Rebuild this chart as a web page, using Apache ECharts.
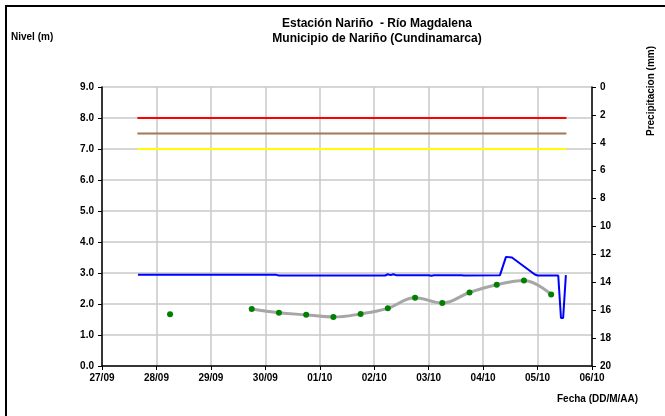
<!DOCTYPE html>
<html>
<head>
<meta charset="utf-8">
<script src="https://cdn.jsdelivr.net/npm/echarts@6/dist/echarts.min.js"></script>
<style>html,body{margin:0;padding:0;background:#fff}#c{width:665px;height:416px}</style>
</head>
<body>
<div id="c"></div>
<script>
// X in days since 27/09 00:00
const dateLabels = ['27/09','28/09','29/09','30/09','01/10','02/10','03/10','04/10','05/10','06/10'];
const blueTime = [0.66, 3.2, 3.25, 5.2, 5.25, 5.3, 5.35, 5.4, 6.0, 6.05, 6.1, 6.6, 6.65, 7.31, 7.42, 7.53, 7.95, 8.0, 8.38, 8.43, 8.47, 8.52];
const blueLevel = [2.94, 2.94, 2.92, 2.92, 2.96, 2.93, 2.96, 2.93, 2.93, 2.91, 2.93, 2.93, 2.92, 2.93, 3.52, 3.50, 2.95, 2.92, 2.92, 1.55, 1.55, 2.93];
const greenTime = [1.25, 2.75, 3.25, 3.75, 4.25, 4.75, 5.25, 5.75, 6.25, 6.75, 7.25, 7.75, 8.25];
const greenLevel = [1.67, 1.84, 1.72, 1.65, 1.58, 1.68, 1.86, 2.20, 2.03, 2.37, 2.62, 2.76, 2.31];
const thresholdSpan = [0.65, 8.53];
const redLevel = 8.0, brownLevel = 7.5, yellowLevel = 7.0;

const pair = (xs, ys) => xs.map((x, i) => [x, ys[i]]);
const flat = (v) => thresholdSpan.map(x => [x, v]);
const font = 'Liberation Sans, Arial, sans-serif';

const chart = echarts.init(document.getElementById('c'));
chart.setOption({
  animation: false,
  backgroundColor: '#fff',
  title: {
    text: 'Estación Nariño  - Río Magdalena\nMunicipio de Nariño (Cundinamarca)',
    left: 372, top: 11, textAlign: 'center',
    textStyle: {fontFamily: font, fontSize: 12, fontWeight: 'bold', color: '#000', lineHeight: 15}
  },
  graphic: [
    {type: 'rect', shape: {x: 6, y: 6, width: 700, height: 450}, style: {fill: 'none', stroke: '#000', lineWidth: 2}, silent: true},
    {type: 'text', left: 11, top: 32, style: {text: 'Nivel (m)', font: 'bold 10px ' + font, fill: '#000'}},
    {type: 'text', x: 651, y: 91, rotation: Math.PI / 2, style: {text: 'Precipitacion (mm)', font: 'bold 10px ' + font, fill: '#000', align: 'center', verticalAlign: 'middle'}},
    {type: 'text', left: 557, top: 394, style: {text: 'Fecha (DD/M/AA)', font: 'bold 10px ' + font, fill: '#000'}}
  ],
  grid: {left: 102, right: 73, top: 87, bottom: 50},
  xAxis: {
    type: 'value', min: 0, max: 9, interval: 1,
    axisLine: {lineStyle: {color: '#000', width: 1.5}},
    axisTick: {show: true, length: 4, lineStyle: {color: '#000'}},
    axisLabel: {formatter: v => dateLabels[Math.round(v)], fontFamily: font, fontSize: 10, fontWeight: 'bold', color: '#000', margin: 7},
    splitLine: {show: true, lineStyle: {color: '#c8c8c8', width: 1.5}}
  },
  yAxis: [
    {
      type: 'value', min: 0, max: 9, interval: 1,
      axisLine: {show: true, lineStyle: {color: '#000', width: 1.5}},
      axisTick: {show: true, length: 4, lineStyle: {color: '#000'}},
      axisLabel: {formatter: v => v.toFixed(1), fontFamily: font, fontSize: 10, fontWeight: 'bold', color: '#000', margin: 8},
      splitLine: {show: true, lineStyle: {color: '#c8c8c8', width: 1.5}}
    },
    {
      type: 'value', min: 0, max: 20, interval: 2, inverse: true, position: 'right',
      axisLine: {show: true, lineStyle: {color: '#000', width: 1.5}},
      axisTick: {show: true, length: 4, inside: false, lineStyle: {color: '#000'}},
      axisLabel: {fontFamily: font, fontSize: 10, fontWeight: 'bold', color: '#000', margin: 8},
      splitLine: {show: false}
    }
  ],
  series: [
    {type: 'line', data: flat(redLevel), symbol: 'none', lineStyle: {color: '#ff0000', width: 2}},
    {type: 'line', data: flat(brownLevel), symbol: 'none', lineStyle: {color: '#a0785a', width: 2}},
    {type: 'line', data: flat(yellowLevel), symbol: 'none', lineStyle: {color: '#ffff00', width: 2}},
    {type: 'line', data: pair(greenTime.slice(1), greenLevel.slice(1)), symbol: 'none', smooth: 0.4, z: 2, lineStyle: {color: '#a6a6a6', width: 3}},
    {type: 'scatter', data: pair(greenTime, greenLevel), symbolSize: 6, z: 5, itemStyle: {color: '#008000', opacity: 1}},
    {type: 'line', data: pair(blueTime, blueLevel), symbol: 'none', z: 4, lineStyle: {color: '#0000ff', width: 2}}
  ]
});
</script>
</body>
</html>
